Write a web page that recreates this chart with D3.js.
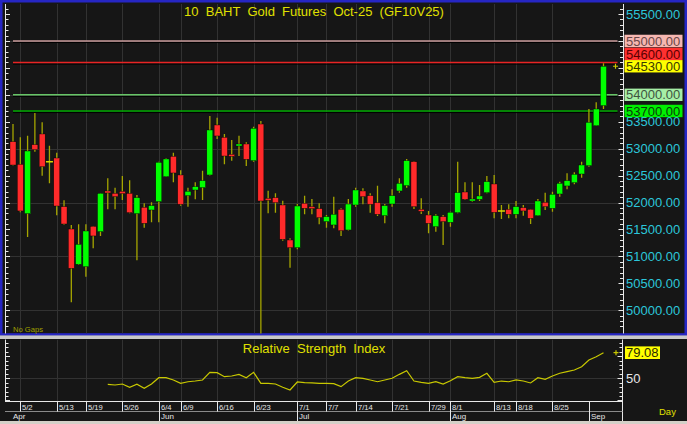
<!DOCTYPE html>
<html><head><meta charset="utf-8">
<script src="https://cdn.jsdelivr.net/npm/d3@7/dist/d3.min.js"></script>
<style>
html,body{margin:0;padding:0;background:#d4d0c8;}
svg{display:block;font-family:"Liberation Sans",Arial,sans-serif;}
</style>
</head><body>
<svg id="chart" width="687" height="424"></svg>
<script>
// ---------- DATA ----------
const dates = ["4/30","5/2","5/6","5/7","5/8","5/9","5/13","5/14","5/15","5/16","5/19","5/20","5/21","5/22","5/23","5/26","5/27","5/28","5/29","5/30","6/4","6/5","6/6","6/9","6/10","6/11","6/12","6/13","6/16","6/17","6/18","6/19","6/20","6/23","6/24","6/25","6/26","6/27","6/30","7/1","7/2","7/3","7/4","7/7","7/8","7/9","7/11","7/14","7/15","7/16","7/17","7/18","7/21","7/22","7/23","7/24","7/25","7/29","7/30","7/31","8/1","8/4","8/5","8/6","8/7","8/8","8/13","8/14","8/15","8/18","8/19","8/20","8/21","8/22","8/25","8/26","8/27","8/28","8/29","9/1","9/2","9/3"];
const openP = [53130,52710,51794,53075,53273,52757,52827,51924,51509,50854,
  50810,51559,51460,52215,52171,52209,52171,51794,51912,51862,
  52017,52481,52858,52512,52128,52233,52277,52512,53440,53211,
  52895,53050,53087,52778,53458,52079,52091,51955,51305,51163,
  51986,51924,51887,51646,51584,51874,51491,51955,52215,52128,
  51998,51757,51973,52215,52314,52759,51874,51769,51553,51738,
  51633,51813,52196,52035,52060,52184,52345,51844,51874,51782,
  51905,51874,51757,52004,51893,52159,52308,52369,52530,52685,
  53427,53799];
const highP = [53458,53211,53242,53663,53489,53056,52926,52042,51584,51596,
  51596,51565,52175,52450,52277,52493,52413,52141,51986,52004,
  52759,52821,52926,52598,52277,52376,52592,53607,53576,53273,
  53161,53242,53118,53409,53514,52221,52171,52035,51336,51973,
  52128,52066,51986,51769,52110,51893,52066,52277,52264,52171,
  52314,51973,52246,52450,52809,52765,52079,51844,51782,51769,
  51831,52759,52376,52376,52326,52493,52512,51955,51967,52029,
  51955,51880,52066,52184,52202,52388,52543,52561,52759,53737,
  53860,54584];
const lowP = [52690,51819,51361,52945,52499,52357,51763,51590,50148,50841,
  50625,51151,51380,51874,51874,52048,51800,50928,51534,51633,
  51633,52475,52376,51943,51924,52060,52048,52500,53180,52710,
  52778,52864,52679,52759,49500,51800,51813,51293,50792,51132,
  51782,51782,51596,51534,51522,51380,51480,51924,51967,51813,
  51751,51615,51924,52184,52277,51881,51788,51429,51460,51212,
  51553,51800,52048,52017,52029,52172,51707,51695,51707,51707,
  51757,51602,51750,51862,51831,52110,52246,52339,52462,52666,
  53420,53737];
const closeP = [52697,51844,52957,52982,52666,52757,51936,51602,50779,51225,
  51472,51380,52171,52184,52110,52165,51813,52091,51615,51943,
  52747,52809,52549,51967,52209,52295,52407,53347,53236,52864,
  52880,53087,52803,53378,52029,52070,51998,51318,51163,51936,
  51893,51910,51720,51738,51782,51479,51973,52233,52110,51967,
  51782,51943,52128,52357,52778,51924,51864,51615,51757,51646,
  51819,52184,52060,52066,52122,52388,51819,51844,51782,51924,
  51844,51707,52029,51924,52153,52357,52407,52524,52697,53489,
  53737,54530];
const rsiValues = [null,null,null,null,null,null,null,null,null,null,null,null,null,
  43.2,42.4,43.5,39.8,43.2,38.6,43.5,50.7,50.7,48.1,
  44.3,46.1,46.9,48.1,56.8,56.4,51.8,52.6,54.5,50.7,
  56.8,44.3,44.3,43.5,39.8,36.7,45.8,45.0,44.7,44.3,
  44.3,43.9,40.5,47.0,50.7,50.0,48.1,46.1,48.1,50.0,
  54.5,58.6,46.9,45.4,44.3,46.1,43.5,47.3,51.8,50.7,
  50.0,51.1,55.7,45.4,46.9,46.1,48.1,46.9,44.7,50.7,
  48.9,52.6,55.7,57.5,59.4,63.2,70.8,74.5,79.08];
const priceTickValues = [50000,50500,51000,51500,52000,52500,53000,53500,54000,54500,55000,55500];
const priceGridValues = [50000,51000,52000,53000,54000,55000];
const dateTickLabels = ["5/2","5/13","5/19","5/26","6/4","6/9","6/16","6/23","7/1","7/7","7/14","7/21","7/29","8/1","8/13","8/18","8/25"];
const monthStarts = ["4/30","6/4","7/1","8/1","9/1"];
const monthLabels = ["Apr","Jun","Jul","Aug","Sep"];
const levelValues = [55000,54600,54000,53700];
const lastPrice = 54530;
const lastRsi = 79.08;
const titleText = "10  BAHT  Gold  Futures  Oct-25  (GF10V25)";
const rsiTitle = "Relative  Strength  Index";

// ---------- STYLE ----------
const levelStyle = {
  55000:{line:"#c79a9a", box:"#f6b7b1", text:"#6b4646"},
  54600:{line:"#e82424", box:"#ff3030", text:"#5a0000"},
  54000:{line:"#66c466", box:"#a6efa6", text:"#3f553f"},
  53700:{line:"#00aa00", box:"#00f000", text:"#0b3d0b"}
};
const C = {bg:"#161616", grid:"#323232", up:"#00ff00", down:"#ff2a2a", wick:"#a6a600",
  axis:"#e8e8e8", cyan:"#2cc6da", yellow:"#e0e000", rsi:"#c8c800", blue:"#2626c4"};

const svg = d3.select("#chart");
const W = 687, H = 424;
const main = {l:5, r:623, t:4, b:333.5};
const rsiP = {l:5, r:622.5, t:339.5, b:401.5};

const x = d3.scalePoint().domain(dates).range([13, 603.5]);
const y = d3.scaleLinear().domain([50000,55500]).range([310.3,14]);
const yr = d3.scaleLinear().domain([50,79.08]).range([378.3,352.7]);

// backgrounds
svg.append("rect").attr("x",0).attr("y",0).attr("width",W).attr("height",H).attr("fill","#d4d0c8");
svg.append("rect").attr("x",0).attr("y",0).attr("width",W).attr("height",335.5).attr("fill",C.bg);
svg.append("rect").attr("x",1.25).attr("y",1.25).attr("width",W-2.5).attr("height",333.2)
  .attr("fill","none").attr("stroke",C.blue).attr("stroke-width",2.5);
svg.append("rect").attr("x",0).attr("y",339).attr("width",W).attr("height",82).attr("fill",C.bg);

// clip for main
svg.append("clipPath").attr("id","mclip").append("rect")
  .attr("x",main.l).attr("y",main.t).attr("width",main.r-main.l).attr("height",main.b-main.t);

const g = svg.append("g").attr("clip-path","url(#mclip)");

// grid main
g.selectAll(".hg").data(priceGridValues).join("line")
  .attr("x1",main.l).attr("x2",main.r).attr("y1",d=>Math.round(y(d))+0.5).attr("y2",d=>Math.round(y(d))+0.5)
  .attr("stroke",C.grid).attr("stroke-width",1);
g.selectAll(".vg").data(dateTickLabels).join("line")
  .attr("x1",d=>Math.round(x(d))+0.5).attr("x2",d=>Math.round(x(d))+0.5).attr("y1",main.t).attr("y2",main.b)
  .attr("stroke",C.grid).attr("stroke-width",1);

// level lines
const lvlX1 = x(dates[0]), lvlX2 = x(dates[dates.length-1]) + 14;
levelValues.forEach(v=>{
  g.append("line").attr("x1",lvlX1).attr("x2",lvlX2).attr("y1",y(v)+1.6).attr("y2",y(v)+1.6)
    .attr("stroke","#000").attr("stroke-width",1);
  g.append("line").attr("x1",lvlX1).attr("x2",lvlX2).attr("y1",y(v)).attr("y2",y(v))
    .attr("stroke",levelStyle[v].line).attr("stroke-width",1.4);
});

// candles
const bars = dates.map((d,i)=>({d, o:openP[i], h:highP[i], l:lowP[i], c:closeP[i]}));
g.selectAll(".wick").data(bars).join("line")
  .attr("x1",b=>x(b.d)).attr("x2",b=>x(b.d)).attr("y1",b=>y(b.h)).attr("y2",b=>y(b.l))
  .attr("stroke",C.wick).attr("stroke-width",1.3);
g.selectAll(".body").data(bars.filter(b=>b.o!==b.c)).join("rect")
  .attr("x",b=>x(b.d)-3).attr("width",6)
  .attr("y",b=>Math.min(y(b.o),y(b.c)))
  .attr("height",b=>Math.max(2,Math.abs(y(b.o)-y(b.c))))
  .attr("fill",b=>b.c>b.o?C.up:C.down)
  .attr("stroke","#000").attr("stroke-width",0.4);
g.selectAll(".doji").data(bars.filter(b=>b.o===b.c)).join("line")
  .attr("x1",b=>x(b.d)-3.5).attr("x2",b=>x(b.d)+3.5).attr("y1",b=>y(b.c)).attr("y2",b=>y(b.c))
  .attr("stroke","#d8d800").attr("stroke-width",1.5);

// plus marker
function plus(px,py){
  svg.append("path").attr("d",`M${px-2.5},${py}H${px+2.5}M${px},${py-2.5}V${py+2.5}`)
    .attr("stroke","#c8c800").attr("stroke-width",1.2);
}
plus(615.5, y(lastPrice));

// title
svg.append("text").attr("x",(main.l+main.r)/2).attr("y",16).attr("text-anchor","middle")
  .attr("font-size",13).attr("fill",C.yellow).style("white-space","pre").text(titleText);
svg.append("text").attr("x",13).attr("y",332).attr("font-size",7.6).attr("fill","#a0a000").text("No Gaps");

// main axes
const axisG = svg.append("g");
axisG.append("line").attr("x1",main.r+0.5).attr("x2",main.r+0.5).attr("y1",main.t).attr("y2",main.b).attr("stroke",C.axis);
axisG.append("line").attr("x1",main.l+0.5).attr("x2",main.l+0.5).attr("y1",main.t).attr("y2",main.b).attr("stroke",C.axis);
const minorTicks = d3.range(49700, 55700, 100);
axisG.selectAll(".rt").data(minorTicks).join("line")
  .attr("x1",d=>d%500===0?618.5:620).attr("x2",main.r+0.5)
  .attr("y1",d=>Math.round(y(d))+0.5).attr("y2",d=>Math.round(y(d))+0.5).attr("stroke",C.axis);
axisG.selectAll(".lt").data(minorTicks).join("line")
  .attr("x1",main.l+0.5).attr("x2",d=>d%500===0?10:8.5)
  .attr("y1",d=>Math.round(y(d))+0.5).attr("y2",d=>Math.round(y(d))+0.5).attr("stroke",C.axis);

// price boxes (resolve overlap)
const boxes = levelValues.map(v=>({v, st:levelStyle[v]})).concat([{v:lastPrice, st:{box:"#ffff00", text:"#3a3a00"}}]);
boxes.forEach(b=>b.cy=y(b.v));
boxes.sort((a,b)=>b.cy-a.cy);
const bh = 12.4;
for(let i=1;i<boxes.length;i++){ boxes[i].cy = Math.min(boxes[i].cy, boxes[i-1].cy-bh); }

// cyan tick labels, skipping those hidden beneath a marker box
const visibleTicks = priceTickValues.filter(v=>!boxes.some(b=>Math.abs(b.cy-y(v))<bh*0.75));
axisG.selectAll(".rl").data(visibleTicks).join("text")
  .attr("x",626).attr("y",d=>y(d)).attr("dy","0.36em").attr("font-size",13).attr("fill",C.cyan)
  .text(d=>d3.format(".2f")(d));

boxes.forEach(b=>{
  svg.append("rect").attr("x",624.5).attr("y",b.cy-bh/2).attr("width",58).attr("height",bh).attr("fill",b.st.box);
  svg.append("text").attr("x",626).attr("y",b.cy).attr("dy","0.36em").attr("font-size",13).attr("fill",b.st.text)
    .text(d3.format(".2f")(b.v));
});

// separator band
svg.append("rect").attr("x",0).attr("y",335.5).attr("width",W).attr("height",3.5).attr("fill","#c8c8c8");

// RSI panel
svg.append("clipPath").attr("id","rclip").append("rect")
  .attr("x",rsiP.l).attr("y",rsiP.t).attr("width",rsiP.r-rsiP.l).attr("height",rsiP.b-rsiP.t);
const rg = svg.append("g").attr("clip-path","url(#rclip)");
rg.selectAll(".vg").data(dateTickLabels).join("line")
  .attr("x1",d=>Math.round(x(d))+0.5).attr("x2",d=>Math.round(x(d))+0.5).attr("y1",rsiP.t).attr("y2",rsiP.b)
  .attr("stroke",C.grid);
rg.append("line").attr("x1",rsiP.l).attr("x2",rsiP.r).attr("y1",Math.round(yr(50))+0.5).attr("y2",Math.round(yr(50))+0.5).attr("stroke",C.grid);
const rsiPts = dates.map((d,i)=>({d, v:rsiValues[i]}));
rg.append("path").datum(rsiPts)
  .attr("d", d3.line().defined(p=>p.v!=null).x(p=>x(p.d)).y(p=>yr(p.v)))
  .attr("fill","none").attr("stroke",C.rsi).attr("stroke-width",1.2);
svg.append("text").attr("x",(main.l+main.r)/2).attr("y",352.5).attr("text-anchor","middle")
  .attr("font-size",13).attr("fill",C.yellow).style("white-space","pre").text(rsiTitle);

// RSI axes
svg.append("line").attr("x1",rsiP.l+0.5).attr("x2",rsiP.l+0.5).attr("y1",rsiP.t).attr("y2",rsiP.b).attr("stroke",C.axis);
svg.append("line").attr("x1",rsiP.r).attr("x2",rsiP.r).attr("y1",rsiP.t).attr("y2",421).attr("stroke",C.axis);
const rTicks = d3.range(25, 95, 5);
svg.selectAll(".rrt").data(rTicks).join("line")
  .attr("x1",d=>d%25===0?617.5:619.5).attr("x2",rsiP.r)
  .attr("y1",d=>Math.round(yr(d))+0.5).attr("y2",d=>Math.round(yr(d))+0.5).attr("stroke",C.axis);
svg.selectAll(".rlt").data(rTicks).join("line")
  .attr("x1",rsiP.l+0.5).attr("x2",d=>d%25===0?10:8.5)
  .attr("y1",d=>Math.round(yr(d))+0.5).attr("y2",d=>Math.round(yr(d))+0.5).attr("stroke",C.axis);
svg.append("text").attr("x",626).attr("y",yr(50)).attr("dy","0.36em").attr("font-size",13).attr("fill","#e6e6e6").text("50");
svg.append("rect").attr("x",625).attr("y",yr(lastRsi)-6.3).attr("width",35).attr("height",12.6).attr("fill","#ffff00");
svg.append("text").attr("x",626).attr("y",yr(lastRsi)).attr("dy","0.36em").attr("font-size",13).attr("fill","#2a2a00").text(d3.format(".2f")(lastRsi));
plus(616, yr(lastRsi));

// date axis
svg.append("line").attr("x1",rsiP.l).attr("x2",rsiP.r).attr("y1",401.5).attr("y2",401.5).attr("stroke",C.axis);
svg.append("line").attr("x1",rsiP.l).attr("x2",rsiP.r).attr("y1",411.5).attr("y2",411.5).attr("stroke","#8a8a8a");
svg.selectAll(".dt").data(dateTickLabels).join("line")
  .attr("x1",d=>Math.round(x(d))+0.5).attr("x2",d=>Math.round(x(d))+0.5).attr("y1",401.5).attr("y2",411.5)
  .attr("stroke",C.axis);
svg.selectAll(".dl").data(dateTickLabels).join("text")
  .attr("x",d=>Math.round(x(d))+2).attr("y",409.5).attr("font-size",7.6).attr("fill","#e6e6e6").text(d=>d);
svg.selectAll(".mt").data(monthStarts.slice(1)).join("line")
  .attr("x1",d=>Math.round(x(d))+0.5).attr("x2",d=>Math.round(x(d))+0.5).attr("y1",401.5).attr("y2",421)
  .attr("stroke",C.axis);
svg.selectAll(".ml").data(monthStarts).join("text")
  .attr("x",d=>Math.round(x(d))+2 - (d===monthStarts[0]?2:0)).attr("y",419).attr("font-size",8)
  .attr("fill","#e6e6e6").text((d,i)=>monthLabels[i]);
svg.append("text").attr("x",659).attr("y",415).attr("font-size",9.5).attr("fill",C.yellow).text("Day");
</script>
</body></html>
